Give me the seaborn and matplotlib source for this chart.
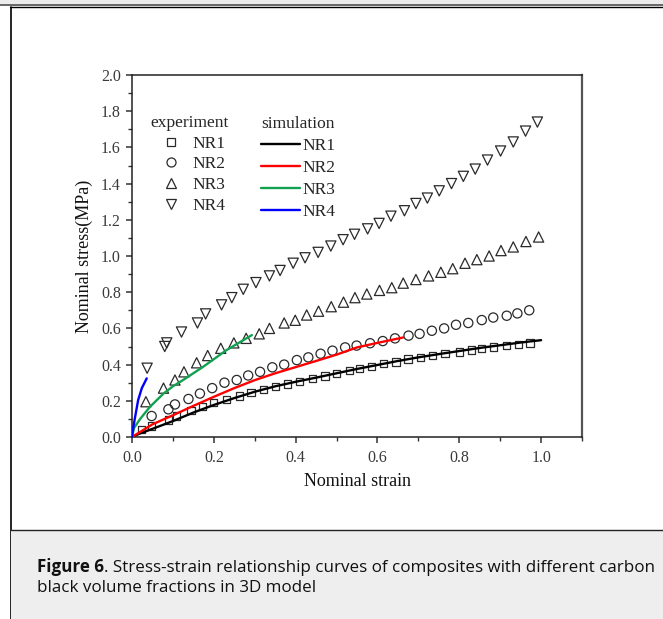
import numpy as np
import pandas as pd
import matplotlib
matplotlib.use("Agg")
import matplotlib.pyplot as plt
import seaborn as sns
from matplotlib.lines import Line2D
from matplotlib.patches import Rectangle
from matplotlib.text import Annotation
from matplotlib.ticker import MultipleLocator, FixedLocator, FixedFormatter
from matplotlib import font_manager

# ---------------- data ----------------
exp_nr1_x = [0.024, 0.048, 0.089, 0.109, 0.144, 0.173, 0.200, 0.231, 0.262, 0.291, 0.321, 0.351,
             0.380, 0.410, 0.441, 0.472, 0.500, 0.531, 0.556, 0.585, 0.615, 0.645, 0.675, 0.705,
             0.735, 0.765, 0.800, 0.830, 0.855, 0.883, 0.916, 0.945, 0.973]
exp_nr1_y = [0.040, 0.060, 0.094, 0.116, 0.145, 0.168, 0.190, 0.208, 0.227, 0.245, 0.264, 0.278,
             0.293, 0.306, 0.324, 0.337, 0.350, 0.366, 0.380, 0.390, 0.405, 0.415, 0.430, 0.440,
             0.450, 0.460, 0.470, 0.480, 0.490, 0.497, 0.505, 0.512, 0.520]

exp_nr2_x = [0.048, 0.089, 0.105, 0.138, 0.166, 0.196, 0.226, 0.256, 0.284, 0.313, 0.343, 0.372,
             0.403, 0.431, 0.461, 0.490, 0.521, 0.549, 0.582, 0.613, 0.643, 0.676, 0.703, 0.733,
             0.763, 0.792, 0.822, 0.855, 0.883, 0.916, 0.942, 0.971]
exp_nr2_y = [0.116, 0.153, 0.180, 0.210, 0.240, 0.270, 0.300, 0.315, 0.340, 0.360, 0.385, 0.400,
             0.425, 0.440, 0.460, 0.477, 0.495, 0.505, 0.518, 0.530, 0.545, 0.560, 0.570, 0.587,
             0.600, 0.620, 0.630, 0.646, 0.660, 0.670, 0.683, 0.700]

exp_nr3_x = [0.034, 0.077, 0.105, 0.127, 0.158, 0.185, 0.217, 0.249, 0.279, 0.311, 0.336, 0.372,
             0.399, 0.427, 0.456, 0.487, 0.517, 0.545, 0.574, 0.605, 0.635, 0.663, 0.694, 0.725,
             0.755, 0.784, 0.814, 0.843, 0.873, 0.902, 0.932, 0.963, 0.994]
exp_nr3_y = [0.195, 0.270, 0.315, 0.360, 0.410, 0.450, 0.490, 0.520, 0.545, 0.570, 0.600, 0.630,
             0.645, 0.674, 0.695, 0.720, 0.745, 0.770, 0.790, 0.810, 0.825, 0.850, 0.870, 0.890,
             0.910, 0.930, 0.960, 0.980, 1.000, 1.030, 1.050, 1.080, 1.105]

exp_nr4_x = [0.037, 0.080, 0.085, 0.121, 0.160, 0.180, 0.219, 0.244, 0.272, 0.303, 0.336, 0.362,
             0.394, 0.423, 0.455, 0.486, 0.516, 0.544, 0.576, 0.604, 0.633, 0.666, 0.694, 0.722,
             0.751, 0.781, 0.810, 0.839, 0.869, 0.901, 0.932, 0.962, 0.991]
exp_nr4_y = [0.380, 0.500, 0.520, 0.580, 0.630, 0.680, 0.730, 0.770, 0.816, 0.853, 0.890, 0.920,
             0.960, 0.990, 1.020, 1.055, 1.090, 1.120, 1.150, 1.180, 1.220, 1.250, 1.290, 1.320,
             1.360, 1.400, 1.440, 1.480, 1.530, 1.580, 1.630, 1.690, 1.740]

sim_nr1_x = [0.0, 0.02, 0.05, 0.10, 0.15, 0.20, 0.25, 0.30, 0.35, 0.40, 0.45, 0.50, 0.55, 0.60,
             0.65, 0.70, 0.75, 0.80, 0.85, 0.90, 0.95, 1.00]
sim_nr1_y = [0.0, 0.020, 0.045, 0.088, 0.135, 0.177, 0.215, 0.250, 0.280, 0.305, 0.328, 0.352,
             0.376, 0.398, 0.420, 0.440, 0.458, 0.475, 0.492, 0.507, 0.522, 0.535]

sim_nr2_x = [0.0, 0.02, 0.05, 0.10, 0.15, 0.20, 0.25, 0.30, 0.35, 0.40, 0.45, 0.50, 0.55, 0.60, 0.663]
sim_nr2_y = [0.0, 0.028, 0.070, 0.120, 0.172, 0.222, 0.270, 0.314, 0.352, 0.386, 0.420, 0.455,
             0.495, 0.520, 0.550]

sim_nr3_x = [0.0, 0.005, 0.02, 0.044, 0.077, 0.10, 0.125, 0.174, 0.231, 0.293]
sim_nr3_y = [0.0, 0.050, 0.100, 0.167, 0.240, 0.280, 0.315, 0.388, 0.480, 0.563]

sim_nr4_x = [0.0, 0.003, 0.007, 0.015, 0.024, 0.036]
sim_nr4_y = [0.0, 0.050, 0.103, 0.204, 0.270, 0.324]

series_names = ["NR1", "NR2", "NR3", "NR4"]
exp_markers = ["s", "o", "^", "v"]
exp_sizes = [28, 44, 54, 54]
sim_colors = ["#000000", "#ff0000", "#12a150", "#0000ff"]

x_ticks = [0.0, 0.2, 0.4, 0.6, 0.8, 1.0]
y_ticks = [0.0, 0.2, 0.4, 0.6, 0.8, 1.0, 1.2, 1.4, 1.6, 1.8, 2.0]

exp_x = [exp_nr1_x, exp_nr2_x, exp_nr3_x, exp_nr4_x]
exp_y = [exp_nr1_y, exp_nr2_y, exp_nr3_y, exp_nr4_y]
sim_x = [sim_nr1_x, sim_nr2_x, sim_nr3_x, sim_nr4_x]
sim_y = [sim_nr1_y, sim_nr2_y, sim_nr3_y, sim_nr4_y]

# ---------------- figure ----------------
sns.set_theme(style="ticks")
plt.rcParams["font.family"] = ["Liberation Serif", "DejaVu Serif"]

W, H = 663, 619
fig = plt.figure(figsize=(W / 100, H / 100), dpi=100)
fig.patch.set_facecolor("white")


def fx(px):
    return px / W


def fy(py):
    return 1 - py / H


# page decorations (kept below everything else)
deco = dict(transform=fig.transFigure, zorder=-10)
fig.add_artist(Rectangle((0, fy(4)), 1, 4 / H, facecolor="#ececec", edgecolor="none", **deco))
fig.add_artist(Rectangle((0, fy(6)), 1, 2 / H, facecolor="#6a6a6a", edgecolor="none", **deco))
fig.add_artist(Line2D([fx(10), 1], [fy(6.6), fy(6.6)], color="black", lw=1.0, **deco))
fig.add_artist(Line2D([fx(10.5), fx(10.5)], [fy(6.6), 0], color="black", lw=1.2, **deco))
fig.add_artist(Rectangle((fx(11), 0), 1, fy(529.5), facecolor="#eeeeee", edgecolor="none", **deco))
fig.add_artist(Line2D([fx(10.5), 1], [fy(529.5), fy(529.5)], color="#222222", lw=1.0, **deco))

ax = fig.add_axes([fx(132), fy(437), (582 - 132) / W, (437 - 75) / H])
ax.set_facecolor("white")

for xs, ys, m, s in zip(exp_x, exp_y, exp_markers, exp_sizes):
    sns.scatterplot(x=xs, y=ys, marker=m, s=s, facecolor="none", edgecolor="#2a2a2a",
                    linewidth=0.9, ax=ax, legend=False, zorder=2)

for xs, ys, c in zip(sim_x, sim_y, sim_colors):
    sns.lineplot(x=xs, y=ys, color=c, lw=1.7, ax=ax, legend=False, sort=False,
                 estimator=None, zorder=3)

ax.set_xlim(0, 1.1)
ax.set_ylim(0, 2.0)
ax.xaxis.set_major_locator(FixedLocator(x_ticks))
ax.xaxis.set_major_formatter(FixedFormatter([f"{v:.1f}" for v in x_ticks]))
ax.xaxis.set_minor_locator(MultipleLocator(0.1))
ax.yaxis.set_major_locator(FixedLocator(y_ticks))
ax.yaxis.set_major_formatter(FixedFormatter([f"{v:.1f}" for v in y_ticks]))
ax.yaxis.set_minor_locator(MultipleLocator(0.1))

ax.tick_params(which="both", direction="out", color="#333333", top=False, right=False)
ax.tick_params(which="major", length=4.5, width=1.1, labelsize=11.5, labelcolor="#3a3a3a")
ax.tick_params(which="minor", length=2.6, width=1.0)
ax.tick_params(axis="x", which="major", pad=4.5)
ax.tick_params(axis="y", which="major", pad=3.5)

for side, sp in ax.spines.items():
    sp.set_visible(True)
    sp.set_linewidth(1.1)
    sp.set_color("#222222")
ax.spines["right"].set_color("#555555")
ax.spines["right"].set_linewidth(1.6)

ax.set_xlabel("Nominal strain", fontsize=13, color="#111111", va="center")
ax.set_ylabel("Nominal stress(MPa)", fontsize=13, color="#111111", va="center")
ax.xaxis.set_label_coords(0.5, (437 - 481) / 362)
ax.yaxis.set_label_coords((84 - 132) / 450, 0.5)

# legends
fs = 12.5
exp_handles = [Line2D([], [], ls="none", marker=m, markersize=ms, markerfacecolor="none",
                      markeredgecolor="#2a2a2a", markeredgewidth=0.9)
               for m, ms in zip(exp_markers, [5.5, 6.5, 7.5, 7.5])]
leg1 = ax.legend(exp_handles, series_names, title="experiment", frameon=False,
                 loc="upper left", bbox_to_anchor=((150 - 132) / 450, (437 - 115) / 362),
                 borderpad=0, borderaxespad=0, handlelength=2.07, handletextpad=0.23,
                 labelspacing=0.26, fontsize=fs, title_fontsize=fs)
ax.add_artist(leg1)

sim_handles = [Line2D([], [], color=c, lw=1.7) for c in sim_colors]
leg2 = ax.legend(sim_handles, series_names, title="simulation", frameon=False,
                 loc="upper left", bbox_to_anchor=((261 - 132) / 450, (437 - 116) / 362),
                 borderpad=0, borderaxespad=0, handlelength=2.24, handletextpad=0.12,
                 labelspacing=0.34, fontsize=fs, title_fontsize=fs)

# caption: pick a sans family that really has a bold face
cap_family = "DejaVu Sans"
for cand in ["Open Sans", "Noto Sans", "Lato", "Roboto"]:
    try:
        fpath = font_manager.findfont(font_manager.FontProperties(family=cand, weight="bold"),
                                      fallback_to_default=False)
        ft = font_manager.get_font(fpath)
        if "bold" in ft.style_name.lower() or "bold" in fpath.lower():
            cap_family = cand
            break
    except Exception:
        pass
reg_family = "Open Sans" if cap_family == "Open Sans" else "Noto Sans"

cap_size = 12.25
t1 = fig.text(fx(37), fy(572), "Figure 6", fontsize=cap_size, fontweight="bold",
              family=[cap_family, "DejaVu Sans"], color="#111111", va="baseline")
rest = Annotation(". Stress-strain relationship curves of composites with different carbon",
                  xy=(1, 0), xycoords=t1, va="bottom", ha="left", fontsize=cap_size,
                  family=[reg_family, "DejaVu Sans"], color="#111111", annotation_clip=False)
fig.add_artist(rest)
fig.text(fx(37), fy(592), "black volume fractions in 3D model", fontsize=cap_size,
         family=[reg_family, "DejaVu Sans"], color="#111111", va="baseline")

fig.savefig("out.png", dpi=100)
